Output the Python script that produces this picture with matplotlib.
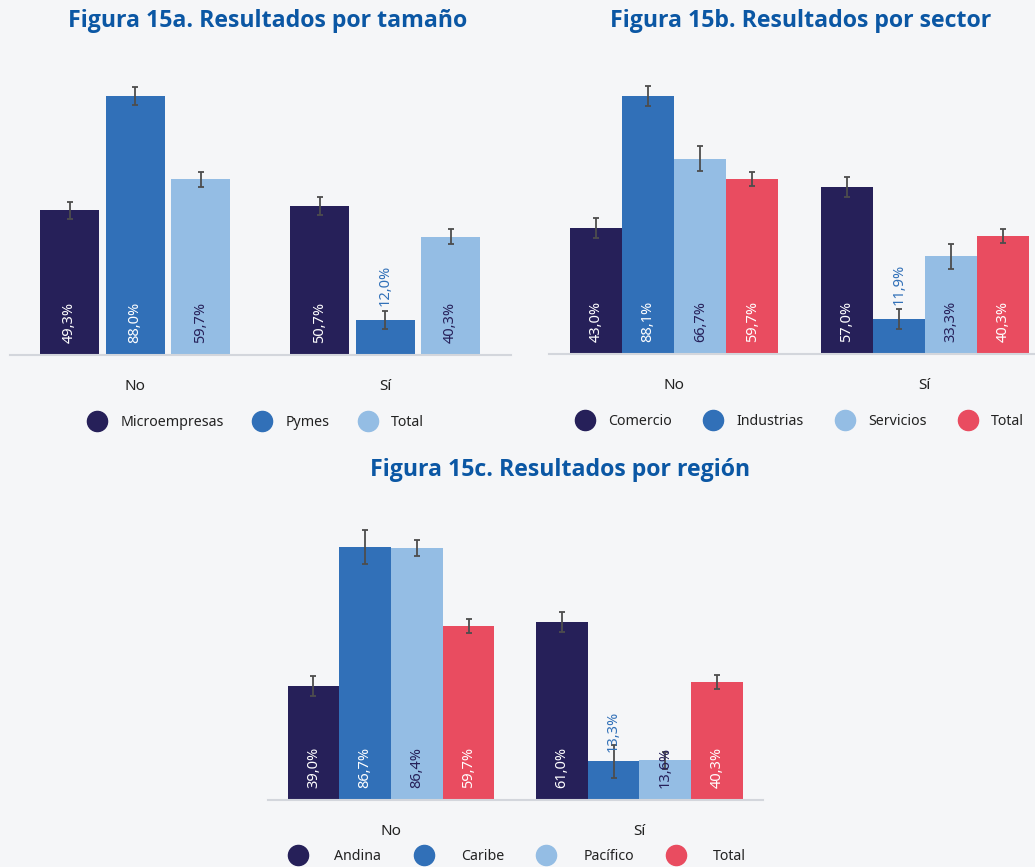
import numpy as np
import matplotlib
matplotlib.use('Agg')
import matplotlib.pyplot as plt
from matplotlib.lines import Line2D

plt.rcParams['font.family'] = ['Noto Sans', 'DejaVu Sans']

# Datos
categorias = ['No', 'Sí']

tamano_series = ['Microempresas', 'Pymes', 'Total']
tamano_valores = [[49.3, 50.7], [88.0, 12.0], [59.7, 40.3]]
tamano_error = [[2.9, 3.0], [3.1, 3.1], [2.5, 2.5]]

sector_series = ['Comercio', 'Industrias', 'Servicios', 'Total']
sector_valores = [[43.0, 57.0], [88.1, 11.9], [66.7, 33.3], [59.7, 40.3]]
sector_error = [[3.5, 3.4], [3.4, 3.4], [4.4, 4.4], [2.4, 2.5]]

region_series = ['Andina', 'Caribe', 'Pacífico', 'Total']
region_valores = [[39.0, 61.0], [86.7, 13.3], [86.4, 13.6], [59.7, 40.3]]
region_error = [[3.3, 3.3], [5.8, 5.7], [2.8, 3.0], [2.4, 2.4]]

# Colores
NAVY = '#262059'
BLUE = '#3170b8'
LIGHT = '#94bde4'
RED = '#e94c60'
BG = '#f5f6f8'
TITLE = '#0b57a4'

W, H = 1035, 867
fig = plt.figure(figsize=(W / 100, H / 100), dpi=100, facecolor=BG)


def px_axes(left, right, base, top):
    return fig.add_axes([left / W, (H - base) / H, (right - left) / W, (base - top) / H])


def panel(ax, series, valores, errores, colores, width, step, xlim,
          out_offset, leg_x, leg_y, textpad, colspace):
    ax.set_facecolor(BG)
    x = np.arange(len(categorias))
    n = len(series)
    for i, (nombre, vals, errs, col) in enumerate(zip(series, valores, errores, colores)):
        pos = x + (i - (n - 1) / 2) * step
        ax.bar(pos, vals, width=width, color=col, zorder=2)
        ax.errorbar(pos, vals, yerr=errs, fmt='none', ecolor='#4d4d4d',
                    elinewidth=1.3, capsize=2.5, capthick=1.3, zorder=4)
        txt_col = NAVY if col == LIGHT else 'white'
        for p, v in zip(pos, vals):
            lab = f'{v:.1f}'.replace('.', ',') + '%'
            if v < 13.5:
                ax.text(p, v + out_offset, lab, rotation=90, ha='center', va='bottom',
                        color=BLUE, fontsize=10.5, zorder=5)
            else:
                ax.text(p, 4, lab, rotation=90, ha='center', va='bottom',
                        color=txt_col, fontsize=10.5, zorder=5)
    ax.set_ylim(0, 100)
    ax.set_xlim(*xlim)
    ax.set_xticks(x)
    ax.set_xticklabels(categorias, fontsize=11, color='#222222')
    ax.tick_params(axis='x', length=0, pad=17)
    ax.set_yticks([])
    for s in ['top', 'right', 'left']:
        ax.spines[s].set_visible(False)
    ax.spines['bottom'].set_color('#d3d6dc')
    ax.spines['bottom'].set_linewidth(1.5)
    handles = [Line2D([0], [0], marker='o', linestyle='none', markersize=14.5,
                      markerfacecolor=c, markeredgecolor=c) for c in colores]
    ax.legend(handles, series, loc='center', bbox_to_anchor=(leg_x, leg_y),
              ncol=n, frameon=False, fontsize=10.2, handlelength=1.4,
              handletextpad=textpad, columnspacing=colspace, labelcolor='#222222')


ax_a = px_axes(10, 511, 355, 61)
panel(ax_a, tamano_series, tamano_valores, tamano_error, [NAVY, BLUE, LIGHT],
      0.236, 0.262, (-0.5, 1.504), 4.7, 0.49, -0.229, 0.95, 2.0)

ax_b = px_axes(549, 1035, 354, 61)
panel(ax_b, sector_series, sector_valores, sector_error, [NAVY, BLUE, LIGHT, RED],
      0.208, 0.208, (-0.5, 1.44), 4.7, 0.516, -0.229, 0.95, 2.2)

ax_c = px_axes(268, 763, 800, 508)
panel(ax_c, region_series, region_valores, region_error, [NAVY, BLUE, LIGHT, RED],
      0.208, 0.208, (-0.495, 1.497), 3.1, 0.503, -0.194, 1.9, 2.3)

# Titulos
tfont = dict(ha='center', va='center', fontsize=16.7, fontweight='bold', color=TITLE,
             family=['Open Sans', 'DejaVu Sans'])
fig.text(268 / W, 1 - 21 / H, 'Figura 15a. Resultados por tamaño', **tfont)
fig.text(801 / W, 1 - 21 / H, 'Figura 15b. Resultados por sector', **tfont)
fig.text(560 / W, 1 - 470 / H, 'Figura 15c. Resultados por región', **tfont)

fig.savefig('out.png', dpi=100, facecolor=BG)
